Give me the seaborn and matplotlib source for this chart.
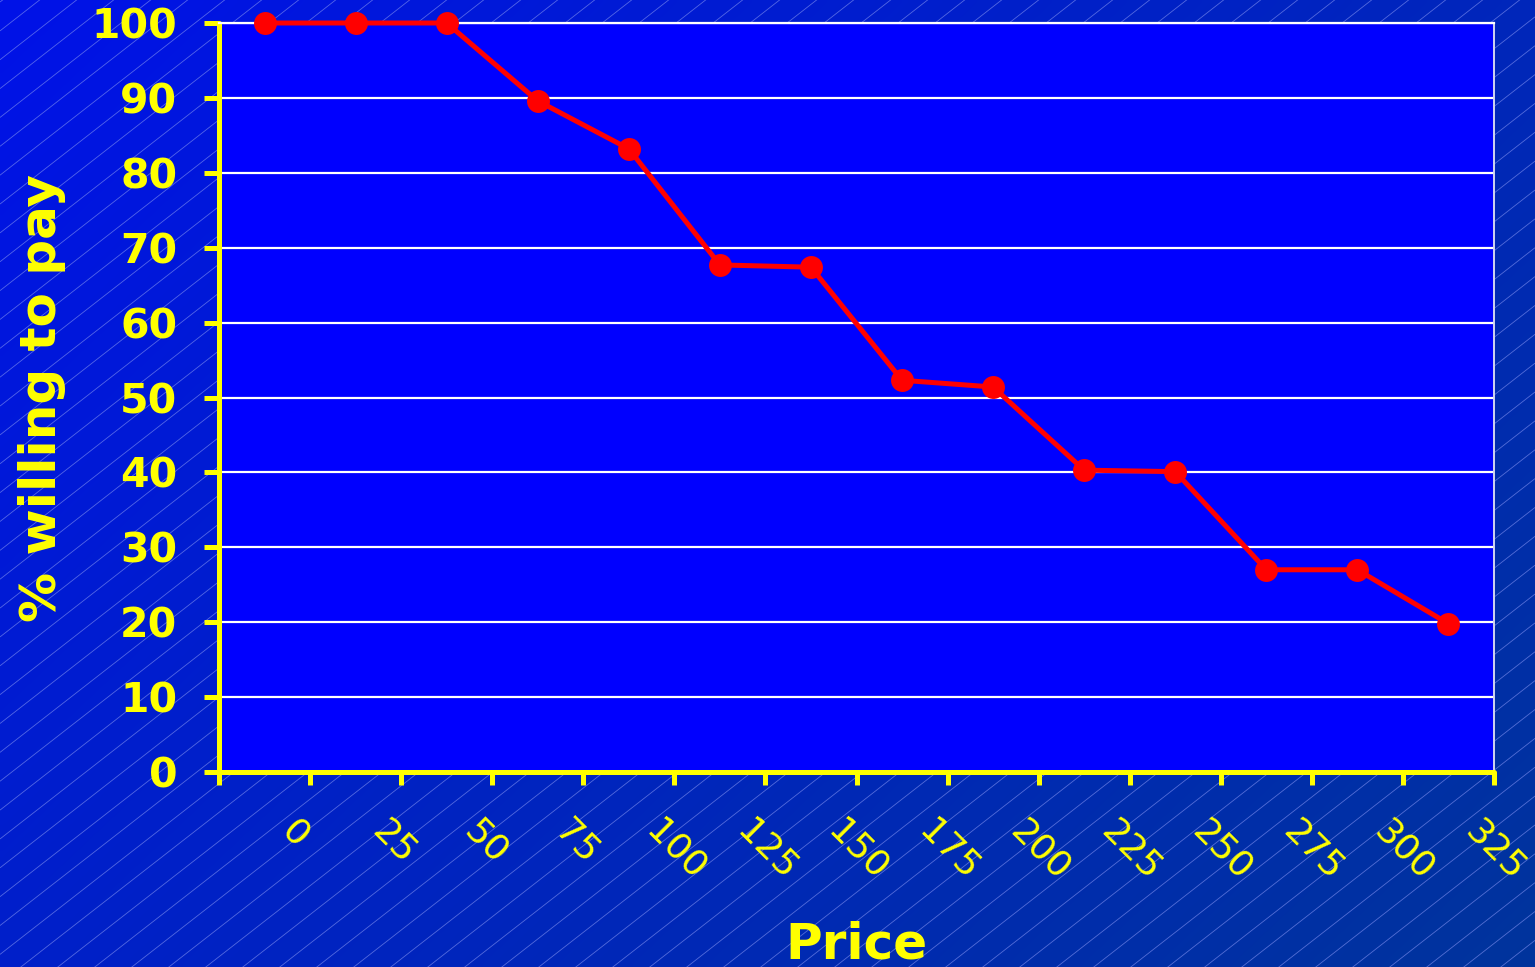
import numpy as np
import pandas as pd
import matplotlib
matplotlib.use("Agg")
import matplotlib.pyplot as plt
from matplotlib.collections import LineCollection
from matplotlib.transforms import ScaledTranslation
import seaborn as sns

# ---- data ----
prices = ["0", "25", "50", "75", "100", "125", "150", "175", "200", "225", "250", "275", "300", "325"]
pct_willing = [100, 100, 100, 89.6, 83.2, 67.7, 67.4, 52.3, 51.4, 40.3, 40.1, 27.0, 27.0, 19.8]
y_ticks = [0, 10, 20, 30, 40, 50, 60, 70, 80, 90, 100]

df = pd.DataFrame({"Price": prices, "pct": pct_willing})

sns.set_theme(style="white")
plt.rcParams["font.family"] = ["DejaVu Sans"]

W, H = 1535, 967
fig = plt.figure(figsize=(W / 100, H / 100), dpi=100)

# ---- background: diagonal gradient + thin diagonal hatch lines ----
bg = fig.add_axes([0, 0, 1, 1], zorder=-10)
xx, yy = np.meshgrid(np.linspace(0, 1, 300), np.linspace(0, 1, 200))
t = 0.6 * xx + 0.4 * yy
c0 = np.array([0x00, 0x12, 0xE8]) / 255
c1 = np.array([0x00, 0x34, 0x9C]) / 255
img = c0[None, None, :] * (1 - t[..., None]) + c1[None, None, :] * t[..., None]
bg.imshow(img, extent=[0, W, H, 0], aspect="auto", interpolation="bilinear")
slope = 0.78
segs = []
for c in np.arange(-200, H + slope * W + 200, 37 * slope):
    segs.append([(0, c), (W, c - slope * W)])
bg.add_collection(LineCollection(segs, colors="#8090F0", linewidths=0.6, alpha=0.65))
bg.set_xlim(0, W)
bg.set_ylim(H, 0)
bg.axis("off")

# ---- main axes ----
ax = fig.add_axes([219 / W, (H - 772) / H, (1494 - 219) / W, (772 - 23) / H])
ax.set_facecolor("#0000FF")
ax.set_axisbelow(True)

sns.pointplot(data=df, x="Price", y="pct", order=prices, color="#FF0000",
              errorbar=None, markers="o", markersize=16.5, linewidth=3.6,
              markeredgewidth=0, ax=ax)
for ln in ax.lines:
    ln.set_clip_on(False)
    ln.set_zorder(5)

ax.set_xlim(-0.5, len(prices) - 0.5)
ax.set_ylim(0, 100)
ax.set_yticks(y_ticks)
ax.set_yticklabels([str(v) for v in y_ticks])
ax.yaxis.grid(True, color="white", linewidth=1.6)
ax.xaxis.grid(False)

tick_pos = np.arange(-0.5, len(prices), 1.0)
ax.set_xticks(tick_pos)
ax.set_xticklabels([""] + prices)

yellow = "#FFFF00"
for s in ["left", "bottom"]:
    ax.spines[s].set_color(yellow)
    ax.spines[s].set_linewidth(3.6)
    ax.spines[s].set_capstyle("round")
ax.spines["right"].set_color("#D0D4F0")
ax.spines["right"].set_linewidth(1.4)
ax.spines["top"].set_color("white")
ax.spines["top"].set_linewidth(1.6)

ax.tick_params(axis="y", colors=yellow, length=11, width=3.6, pad=19,
               labelsize=29.5, direction="out", left=True)
ax.tick_params(axis="x", colors=yellow, length=9, width=3.6, pad=21,
               labelsize=26, direction="out", bottom=True)
for lab in ax.get_yticklabels():
    lab.set_fontweight("bold")
for lab in ax.get_xticklabels():
    lab.set_rotation(-45)
    lab.set_ha("left")
    lab.set_va("top")
    lab.set_transform(lab.get_transform() + ScaledTranslation(-35 / 100, 0, fig.dpi_scale_trans))

ax.set_xlabel("Price", color=yellow, fontsize=36, fontweight="bold", va="top")
ax.xaxis.set_label_coords(0.5, -0.198)
ax.set_ylabel("% willing to pay", color=yellow, fontsize=36, fontweight="bold",
              va="center", ha="center")
ax.yaxis.set_label_coords((42 - 219) / 1275, 0.5)

fig.savefig("out.png", dpi=100)
